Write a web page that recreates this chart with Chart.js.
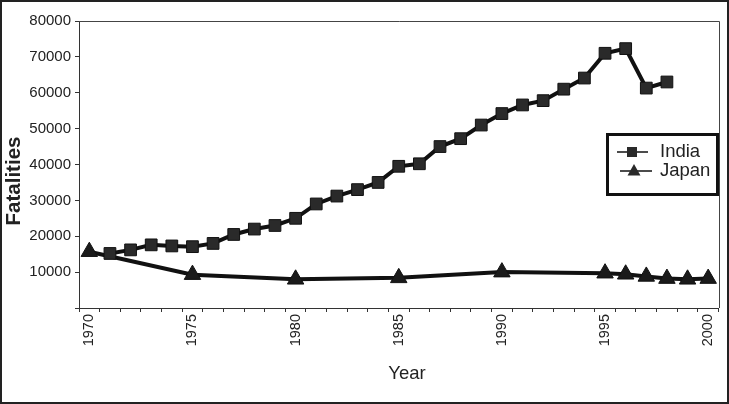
<!DOCTYPE html>
<html><head><meta charset="utf-8">
<script src="https://cdn.jsdelivr.net/npm/chart.js@4.4.0/dist/chart.umd.min.js"></script>
<style>html,body{margin:0;padding:0;background:#fff;} #wrap{width:729px;height:404px;position:relative;}</style>
</head><body><div id="wrap"><canvas id="c" width="729" height="404"></canvas></div>
<script>
const years = ['1970','1971','1972','1973','1974','1975','1976','1977','1978','1979','1980','1981','1982','1983','1984','1985','1986','1987','1988','1989','1990','1991','1992','1993','1994','1995','1996','1997','1998','1999','2000'];
const xTickLabels = ['1970','1975','1980','1985','1990','1995','2000'];
const yTickValues = [10000,20000,30000,40000,50000,60000,70000,80000];

const indiaYears = ['1971','1972','1973','1974','1975','1976','1977','1978','1979','1980','1981','1982','1983','1984','1985','1986','1987','1988','1989','1990','1991','1992','1993','1994','1995','1996','1997','1998'];
const indiaValues = [15200,16200,17600,17300,17100,18000,20500,22000,23000,25000,29000,31200,33000,35000,39500,40200,45000,47200,51000,54200,56600,57800,61000,64100,71000,72300,61300,63000];

const japanYears = ['1970','1975','1980','1985','1990','1995','1996','1997','1998','1999','2000'];
const japanValues = [15700,9300,8000,8400,10000,9700,9400,8800,8200,8000,8200];

const FONT = '"Liberation Sans", Arial, Helvetica, sans-serif';

const decor = {
  id: 'decor',
  afterDraw(chart) {
    const ctx = chart.ctx, a = chart.chartArea;
    ctx.save();
    ctx.strokeStyle = '#444'; ctx.lineWidth = 1;
    ctx.beginPath();
    ctx.moveTo(a.left, Math.round(a.top) + 0.5);
    ctx.lineTo(Math.round(a.right) + 0.5, Math.round(a.top) + 0.5);
    ctx.lineTo(Math.round(a.right) + 0.5, a.bottom);
    ctx.stroke();
    ctx.strokeStyle = '#222'; ctx.lineWidth = 2;
    ctx.strokeRect(1, 1, 727, 402);
    ctx.fillStyle = '#222';
    ctx.textAlign = 'center'; ctx.textBaseline = 'middle';
    ctx.font = '18.5px ' + FONT;
    ctx.fillText('Year', 407, 374);
    ctx.save();
    ctx.translate(14, 181); ctx.rotate(-Math.PI / 2);
    ctx.font = 'bold 20.5px ' + FONT;
    ctx.fillText('Fatalities', 0, 0);
    ctx.restore();
    ctx.strokeStyle = '#111'; ctx.lineWidth = 3;
    ctx.strokeRect(607.5, 134.5, 110, 60);
    ctx.lineWidth = 1.5;
    ctx.beginPath(); ctx.moveTo(617, 152); ctx.lineTo(648, 152); ctx.stroke();
    ctx.beginPath(); ctx.moveTo(620, 171); ctx.lineTo(652, 171); ctx.stroke();
    ctx.fillStyle = '#2a2a2a';
    ctx.fillRect(627, 147, 10, 10);
    ctx.beginPath(); ctx.moveTo(634, 164); ctx.lineTo(640.5, 175.5); ctx.lineTo(627.5, 175.5); ctx.closePath(); ctx.fill();
    ctx.fillStyle = '#222';
    ctx.textAlign = 'left';
    ctx.font = '18.5px ' + FONT;
    ctx.fillText('India', 660, 152);
    ctx.fillText('Japan', 660, 171);
    ctx.restore();
  }
};

new Chart(document.getElementById('c'), {
  type: 'line',
  data: {
    labels: years,
    datasets: [
      {
        label: 'India',
        data: indiaYears.map((y, i) => ({ x: y, y: indiaValues[i] })),
        borderColor: '#111', borderWidth: 4, tension: 0, fill: false,
        pointStyle: 'rect', pointRadius: 8.3, pointBackgroundColor: '#2a2a2a',
        pointBorderColor: '#111', pointBorderWidth: 1, clip: false
      },
      {
        label: 'Japan',
        data: japanYears.map((y, i) => ({ x: y, y: japanValues[i] })),
        borderColor: '#111', borderWidth: 4, tension: 0, fill: false,
        pointStyle: 'triangle', pointRadius: 9.5, pointBackgroundColor: '#1a1a1a',
        pointBorderColor: '#111', pointBorderWidth: 1, clip: false
      }
    ]
  },
  options: {
    responsive: false, animation: false, devicePixelRatio: 1,
    layout: { padding: { top: 21, right: 5, left: 0, bottom: 0 } },
    plugins: { legend: { display: false }, tooltip: { enabled: false } },
    scales: {
      x: {
        type: 'category', offset: true,
        grid: { display: true, offset: true, drawOnChartArea: false, drawTicks: true, tickLength: 4, color: '#333', lineWidth: 1 },
        border: { display: true, color: '#333', width: 1 },
        ticks: {
          autoSkip: false, minRotation: 90, maxRotation: 90, padding: 2, color: '#222',
          font: { family: FONT, size: 14.5 },
          callback: function (val) { const l = this.getLabelForValue(val); return xTickLabels.includes(l) ? l : ''; }
        },
        afterFit: (s) => { s.height = 96; }
      },
      y: {
        type: 'linear', min: 0, max: 80000,
        grid: { drawOnChartArea: false, drawTicks: true, tickLength: 4, color: '#333' },
        border: { display: true, color: '#333', width: 1 },
        ticks: {
          stepSize: 10000, padding: 4, color: '#222',
          font: { family: FONT, size: 15 },
          callback: (v) => yTickValues.includes(v) ? String(v) : ''
        },
        afterFit: (s) => { s.width = 79; }
      }
    }
  },
  plugins: [decor]
});
</script>
</body></html>
